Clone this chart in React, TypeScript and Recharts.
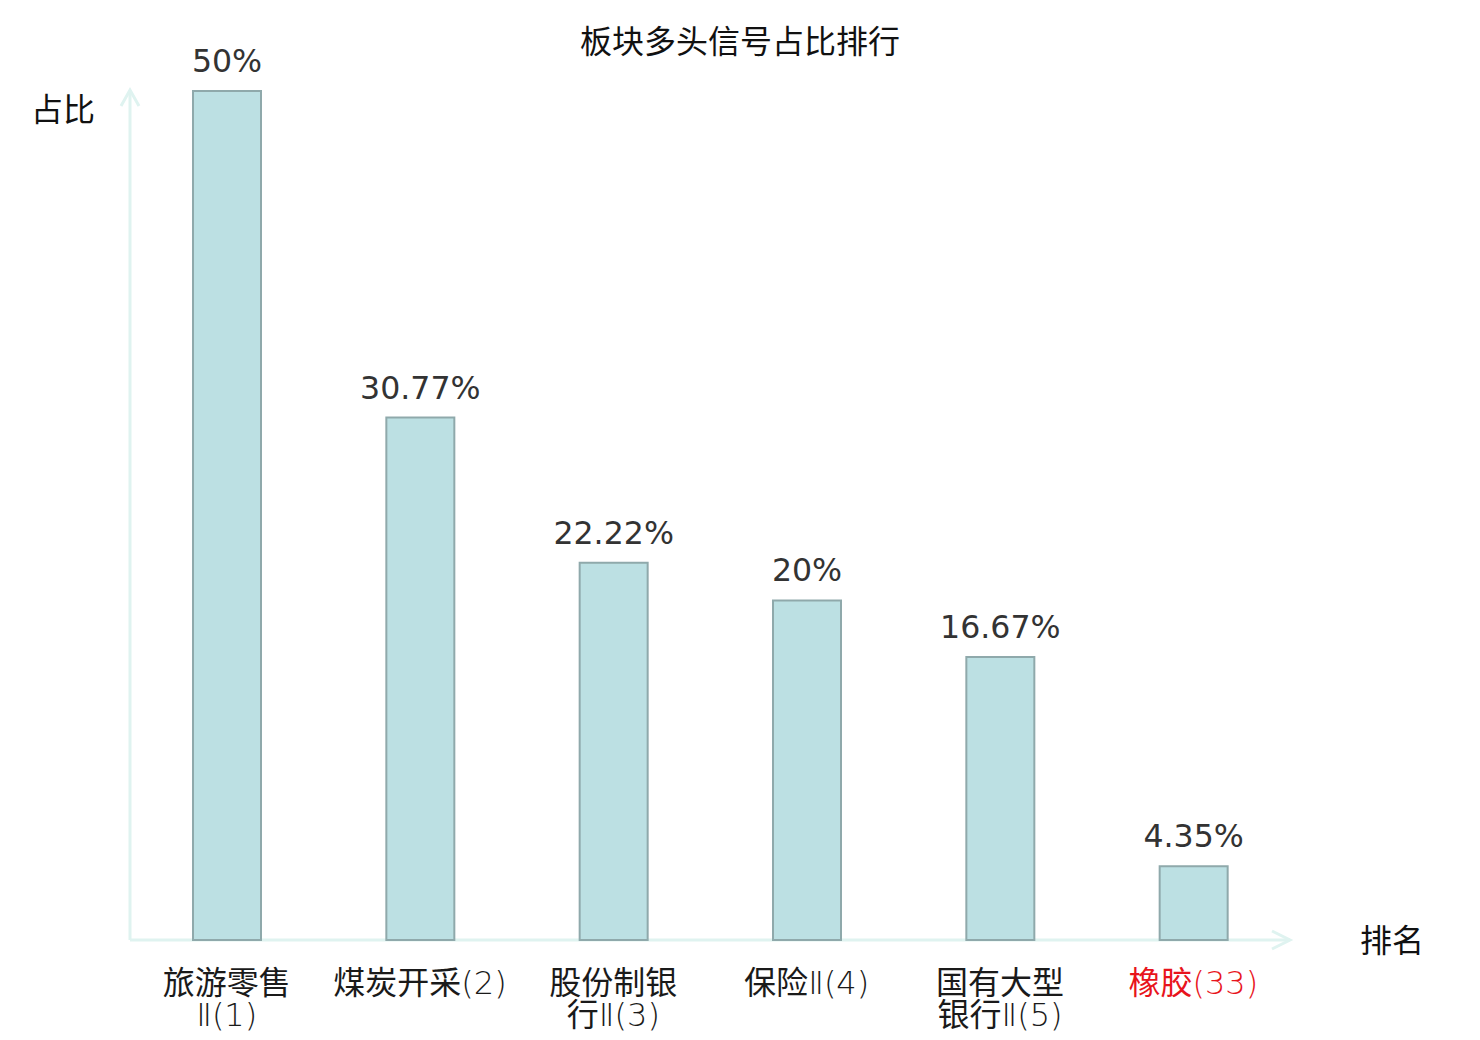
import React from "react";
import { BarChart, Bar, XAxis, YAxis, LabelList, Customized } from "recharts";

const categories = ["旅游零售Ⅱ(1)", "煤炭开采(2)", "股份制银行Ⅱ(3)", "保险Ⅱ(4)", "国有大型银行Ⅱ(5)", "橡胶(33)"];
const values = [50, 30.77, 22.22, 20, 16.67, 4.35];
const highlighted = ["橡胶(33)"];
const yDomain = [0, 50];

const data = categories.map((name, i) => ({ name, value: values[i] }));

const CJK = '"Noto Sans CJK SC", "Noto Sans", sans-serif';
const LATIN = '"DejaVu Sans", sans-serif';
const AXIS_COLOR = "#dff3f0";

function splitLabel(s: string): string[] {
  if (s.length > 7) return [s.slice(0, 4), s.slice(4)];
  return [s];
}

function runs(s: string): { t: string; cjk: boolean }[] {
  const out: { t: string; cjk: boolean }[] = [];
  for (const ch of s) {
    const cjk = /[\u4e00-\u9fff]/.test(ch);
    const last = out[out.length - 1];
    if (last && last.cjk === cjk) last.t += ch;
    else out.push({ t: ch, cjk });
  }
  return out;
}

const Tick = (props: any) => {
  const { x, y, payload } = props;
  const lines = splitLabel(payload.value);
  const color = highlighted.includes(payload.value) ? "#e8141c" : "#1a1a1a";
  return (
    <g>
      {lines.map((l, i) => (
        <text key={i} x={x} y={y + 54 + i * 32} textAnchor="middle" fill={color} fontSize={32}>
          {runs(l).map((r, j) =>
            r.cjk ? (
              <tspan key={j} fontFamily={CJK} fontWeight={400}>
                {r.t}
              </tspan>
            ) : (
              <tspan key={j} fontFamily={LATIN} fontWeight={200}>
                {r.t}
              </tspan>
            )
          )}
        </text>
      ))}
    </g>
  );
};

const ValueLabel = (props: any) => {
  const { x, y, width, value } = props;
  return (
    <text x={x + width / 2} y={y - 19} textAnchor="middle" fill="#333333" fontFamily={LATIN} fontSize={31.6}>
      {value}%
    </text>
  );
};

const Decorations = (props: any) => {
  const off = props.offset || {};
  const left = off.left ?? 130;
  const top = off.top ?? 91;
  const w = off.width ?? 1160;
  const h = off.height ?? 849;
  const bottom = top + h;
  const right = left + w;
  return (
    <g>
      <line x1={left} y1={bottom} x2={left} y2={top - 1} stroke={AXIS_COLOR} strokeWidth={3} />
      <line x1={left} y1={bottom} x2={right} y2={bottom} stroke={AXIS_COLOR} strokeWidth={3} />
      <polyline
        points={`${left - 9},${top + 15} ${left},${top - 1} ${left + 9},${top + 15}`}
        fill="none"
        stroke={AXIS_COLOR}
        strokeWidth={3}
      />
      <polyline
        points={`${right - 18},${bottom - 9} ${right},${bottom} ${right - 18},${bottom + 9}`}
        fill="none"
        stroke={AXIS_COLOR}
        strokeWidth={3}
      />
      <text x={740} y={53} textAnchor="middle" fill="#111111" fontFamily={CJK} fontSize={32}>
        板块多头信号占比排行
      </text>
      <text x={63} y={121} textAnchor="middle" fill="#111111" fontFamily={CJK} fontSize={32}>
        占比
      </text>
      <text x={1392} y={952} textAnchor="middle" fill="#111111" fontFamily={CJK} fontSize={32}>
        排名
      </text>
    </g>
  );
};

export default function App() {
  return (
    <div style={{ position: "absolute", left: 0, top: 0, width: 1480, height: 1040, background: "#ffffff" }}>
      <BarChart
        width={1480}
        height={1040}
        data={data}
        margin={{ top: 91, right: 190, bottom: 70, left: 130 }}
        barSize={68}
      >
        <XAxis
          dataKey="name"
          axisLine={false}
          tickLine={false}
          tickSize={0}
          tickMargin={0}
          height={30}
          interval={0}
          tick={<Tick />}
        />
        <YAxis hide domain={yDomain} />
        <Bar dataKey="value" fill="#bce0e3" stroke="#8fa9ab" strokeWidth={2} isAnimationActive={false}>
          <LabelList dataKey="value" content={<ValueLabel />} />
        </Bar>
        <Customized component={<Decorations />} />
      </BarChart>
    </div>
  );
}
